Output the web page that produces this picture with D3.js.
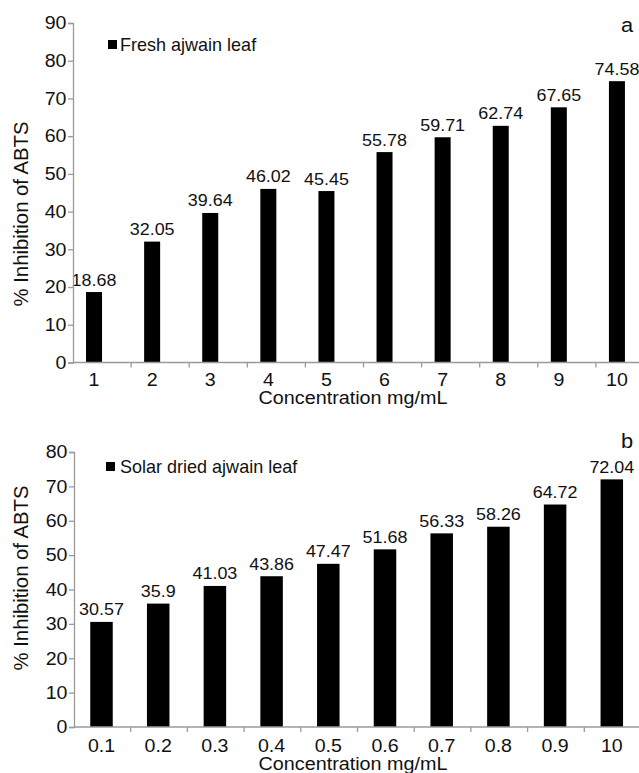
<!DOCTYPE html>
<html>
<head>
<meta charset="utf-8">
<script src="https://cdn.jsdelivr.net/npm/d3@7"></script>
<style>
  html, body { margin: 0; padding: 0; background: #fff; }
  text { font-family: "Liberation Sans", Arial, Helvetica, sans-serif; fill: #111; }
</style>
</head>
<body>
<svg id="chart" width="639" height="773"></svg>
<script>
// ---- Data ----
const freshCategories = ["1","2","3","4","5","6","7","8","9","10"];
const freshValues = [18.68, 32.05, 39.64, 46.02, 45.45, 55.78, 59.71, 62.74, 67.65, 74.58];
const freshTicks = [0,10,20,30,40,50,60,70,80,90];

const solarCategories = ["0.1","0.2","0.3","0.4","0.5","0.6","0.7","0.8","0.9","10"];
const solarValues = [30.57, 35.9, 41.03, 43.86, 47.47, 51.68, 56.33, 58.26, 64.72, 72.04];
const solarTicks = [0,10,20,30,40,50,60,70,80];

const xTitle = "Concentration mg/mL";
const yTitle = "% Inhibition of ABTS";

const svg = d3.select("#chart");
const AXIS = "#9a9a9a";

function addText(g, x, y, str, size, sx, anchor) {
  return g.append("text")
    .attr("transform", `translate(${x},${y}) scale(${sx},1)`)
    .attr("text-anchor", anchor || "middle")
    .style("font-size", size + "px")
    .text(str);
}

function drawPanel(cfg) {
  const g = svg.append("g");
  const x = d3.scaleBand().domain(cfg.categories).range(cfg.xRange).paddingInner(0).paddingOuter(0);
  const y = d3.scaleLinear().domain([0, cfg.yMax]).range(cfg.yRange);
  const step = x.step();
  const barCenter = c => x(c) + step * cfg.centerFrac;

  // Bars
  g.selectAll("rect.bar").data(cfg.values).enter().append("rect")
    .attr("class", "bar")
    .attr("x", (d, i) => barCenter(cfg.categories[i]) - cfg.barWidth / 2)
    .attr("width", cfg.barWidth)
    .attr("y", d => y(d))
    .attr("height", d => y(0) - y(d))
    .attr("fill", "#000");

  // Value labels
  cfg.values.forEach((v, i) => {
    addText(g, barCenter(cfg.categories[i]), y(v) - 6.5, String(v), 16.3, 1.1);
  });

  // Y axis
  const ya = g.append("g").attr("transform", `translate(${cfg.xRange[0]},0)`)
    .call(d3.axisLeft(y).tickValues(cfg.ticks).tickSize(5).tickFormat(""));
  ya.selectAll("path, line").attr("stroke", AXIS).attr("stroke-width", 1.3);
  cfg.ticks.forEach(t => addText(g, cfg.xRange[0] - 6.5, y(t) + 6.3, String(t), 17.5, 1.12, "end"));

  // X axis line + ticks at band boundaries
  const xa = g.append("g");
  xa.append("line").attr("x1", cfg.xRange[0]).attr("x2", 639)
    .attr("y1", y(0)).attr("y2", y(0)).attr("stroke", AXIS).attr("stroke-width", 1.5);
  xa.selectAll("line.tk").data(cfg.categories.slice(1)).enter().append("line")
    .attr("class", "tk")
    .attr("x1", c => x(c)).attr("x2", c => x(c))
    .attr("y1", y(0)).attr("y2", y(0) + 5)
    .attr("stroke", AXIS).attr("stroke-width", 1.3);
  cfg.categories.forEach(c => addText(g, barCenter(c), y(0) + cfg.xLabelDy, c, 17.5, 1.12));

  // Axis titles
  addText(g, 353, cfg.xTitleY, xTitle, 17.5, 1.13);
  g.append("text")
    .attr("transform", `translate(28,${cfg.yTitleY}) rotate(-90)`)
    .attr("text-anchor", "middle")
    .style("font-size", "20.3px")
    .text(yTitle);

  // Legend
  g.append("rect").attr("x", cfg.legend[0]).attr("y", cfg.legend[1]).attr("width", 9).attr("height", 9).attr("fill", "#000");
  addText(g, 120, cfg.legend[1] + 11, cfg.legendText, 17.5, 1.03, "start");

  // Panel letter
  addText(g, 627, cfg.letterY, cfg.letter, 19.5, 1.12);
}

drawPanel({
  categories: freshCategories, values: freshValues, ticks: freshTicks,
  yMax: 90, yRange: [362.5, 23], xRange: [73, 654], centerFrac: 0.362,
  barWidth: 16, xLabelDy: 23, xTitleY: 404, yTitleY: 214,
  legend: [108, 40], legendText: "Fresh ajwain leaf", letter: "a", letterY: 32
});

drawPanel({
  categories: solarCategories, values: solarValues, ticks: solarTicks,
  yMax: 80, yRange: [727, 452], xRange: [74, 641], centerFrac: 0.485,
  barWidth: 22.5, xLabelDy: 25, xTitleY: 770, yTitleY: 578,
  legend: [106, 462], legendText: "Solar dried ajwain leaf", letter: "b", letterY: 448
});
</script>
</body>
</html>
